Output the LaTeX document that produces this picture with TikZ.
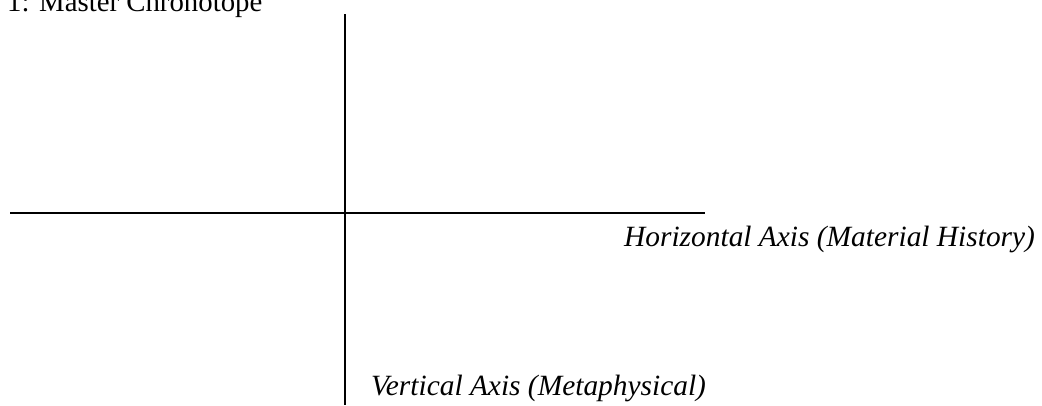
\documentclass[tikz,border=0pt]{standalone}
\usepackage{fontspec}
\setmainfont{Liberation Serif}
\begin{document}
\begin{tikzpicture}[x=1pt,y=-1pt,
    axis/.style={line width=1.8pt},
    lbl/.style={anchor=base west, inner sep=0pt, font=\fontsize{28.8}{34}\selectfont},
    axislbl/.style={lbl, font=\fontsize{29.4}{35}\selectfont\itshape}]
    \useasboundingbox (0,0) rectangle (1042,405);
    % title, cut at the top
    \node[lbl] (title) at (7,11) {1: Master Chronotope};
    % axes
    \coordinate (vtop) at (345,14);
    \coordinate (vbot) at (345,405);
    \coordinate (hleft) at (10,213);
    \coordinate (hright) at (705,213);
    \draw[axis] (hleft) -- (hright);
    \draw[axis] (vtop) -- (vbot);
    % axis labels
    \node[axislbl] (hlabel) at (624,246) {Horizontal Axis (Material History)};
    \node[axislbl] (vlabel) at (371,395) {Vertical Axis (Metaphysical)};
\end{tikzpicture}
\end{document}
